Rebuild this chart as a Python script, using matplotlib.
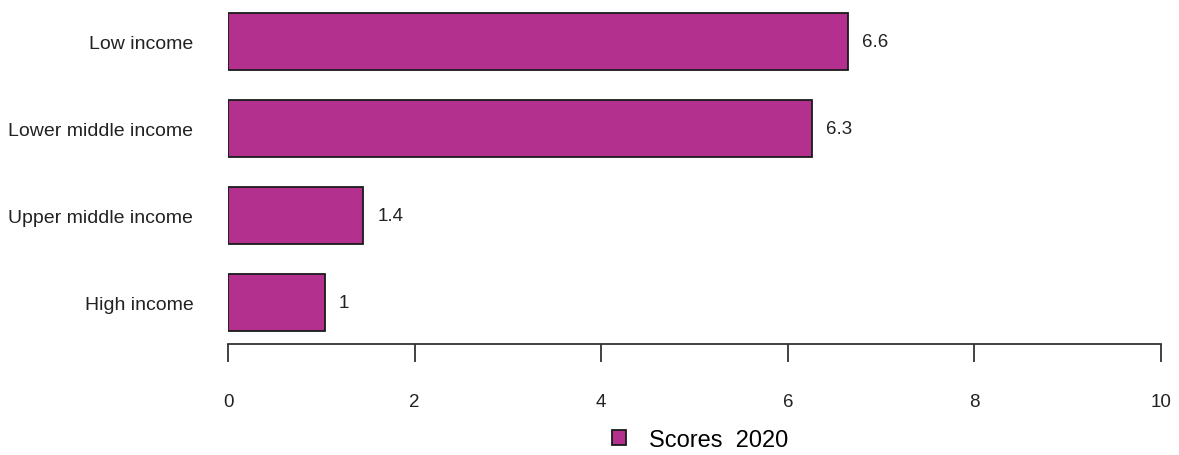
import matplotlib
matplotlib.use("Agg")
import matplotlib.pyplot as plt
from matplotlib.patches import Patch

categories = ["Low income", "Lower middle income", "Upper middle income", "High income"]
values = [6.65, 6.26, 1.45, 1.04]
value_labels = ["6.6", "6.3", "1.4", "1"]
xticks = [0, 2, 4, 6, 8, 10]
series_name = "Scores  2020"
bar_color = "#B4308E"

plt.rcParams['font.family'] = ['Liberation Sans', 'DejaVu Sans']

W, H = 1179, 456
fig = plt.figure(figsize=(W / 100, H / 100), dpi=100)
ax = fig.add_axes([228 / W, 1 - 345 / H, (1161 - 228) / W, 345 / H])

pos = list(range(len(categories)))
ax.barh(pos, values, height=0.655, color=bar_color, edgecolor="#1a1a1a", linewidth=1.3)
for p, v, lab in zip(pos, values, value_labels):
    ax.annotate(lab, (v, p), xytext=(10, 0), textcoords="offset points",
                ha="left", va="center", fontsize=13.5, color="#222222")

ax.set_xlim(0, 10)
ax.set_ylim(3.477, -0.489)
ax.set_yticks(pos)
ax.set_yticklabels(categories, fontsize=14, color="#222222")
ax.tick_params(axis="y", length=0, pad=25)
ax.set_xticks(xticks)
ax.set_xticklabels([str(t) for t in xticks], fontsize=13.5, color="#222222")
ax.tick_params(axis="x", length=13, width=1.3, color="#333333", pad=22, direction="out")
for s in ["top", "right", "left"]:
    ax.spines[s].set_visible(False)
ax.spines["bottom"].set_bounds(0, 10)
ax.spines["bottom"].set_linewidth(1.3)
ax.spines["bottom"].set_color("#333333")

handle = Patch(facecolor=bar_color, edgecolor="#1a1a1a", linewidth=1.3)
fig.legend([handle], [series_name], loc="center", bbox_to_anchor=(700 / W, 1 - 441 / H),
           frameon=False, fontsize=17, handlelength=0.6, handleheight=0.6, handletextpad=0.95)

fig.savefig("out.png", dpi=100)
